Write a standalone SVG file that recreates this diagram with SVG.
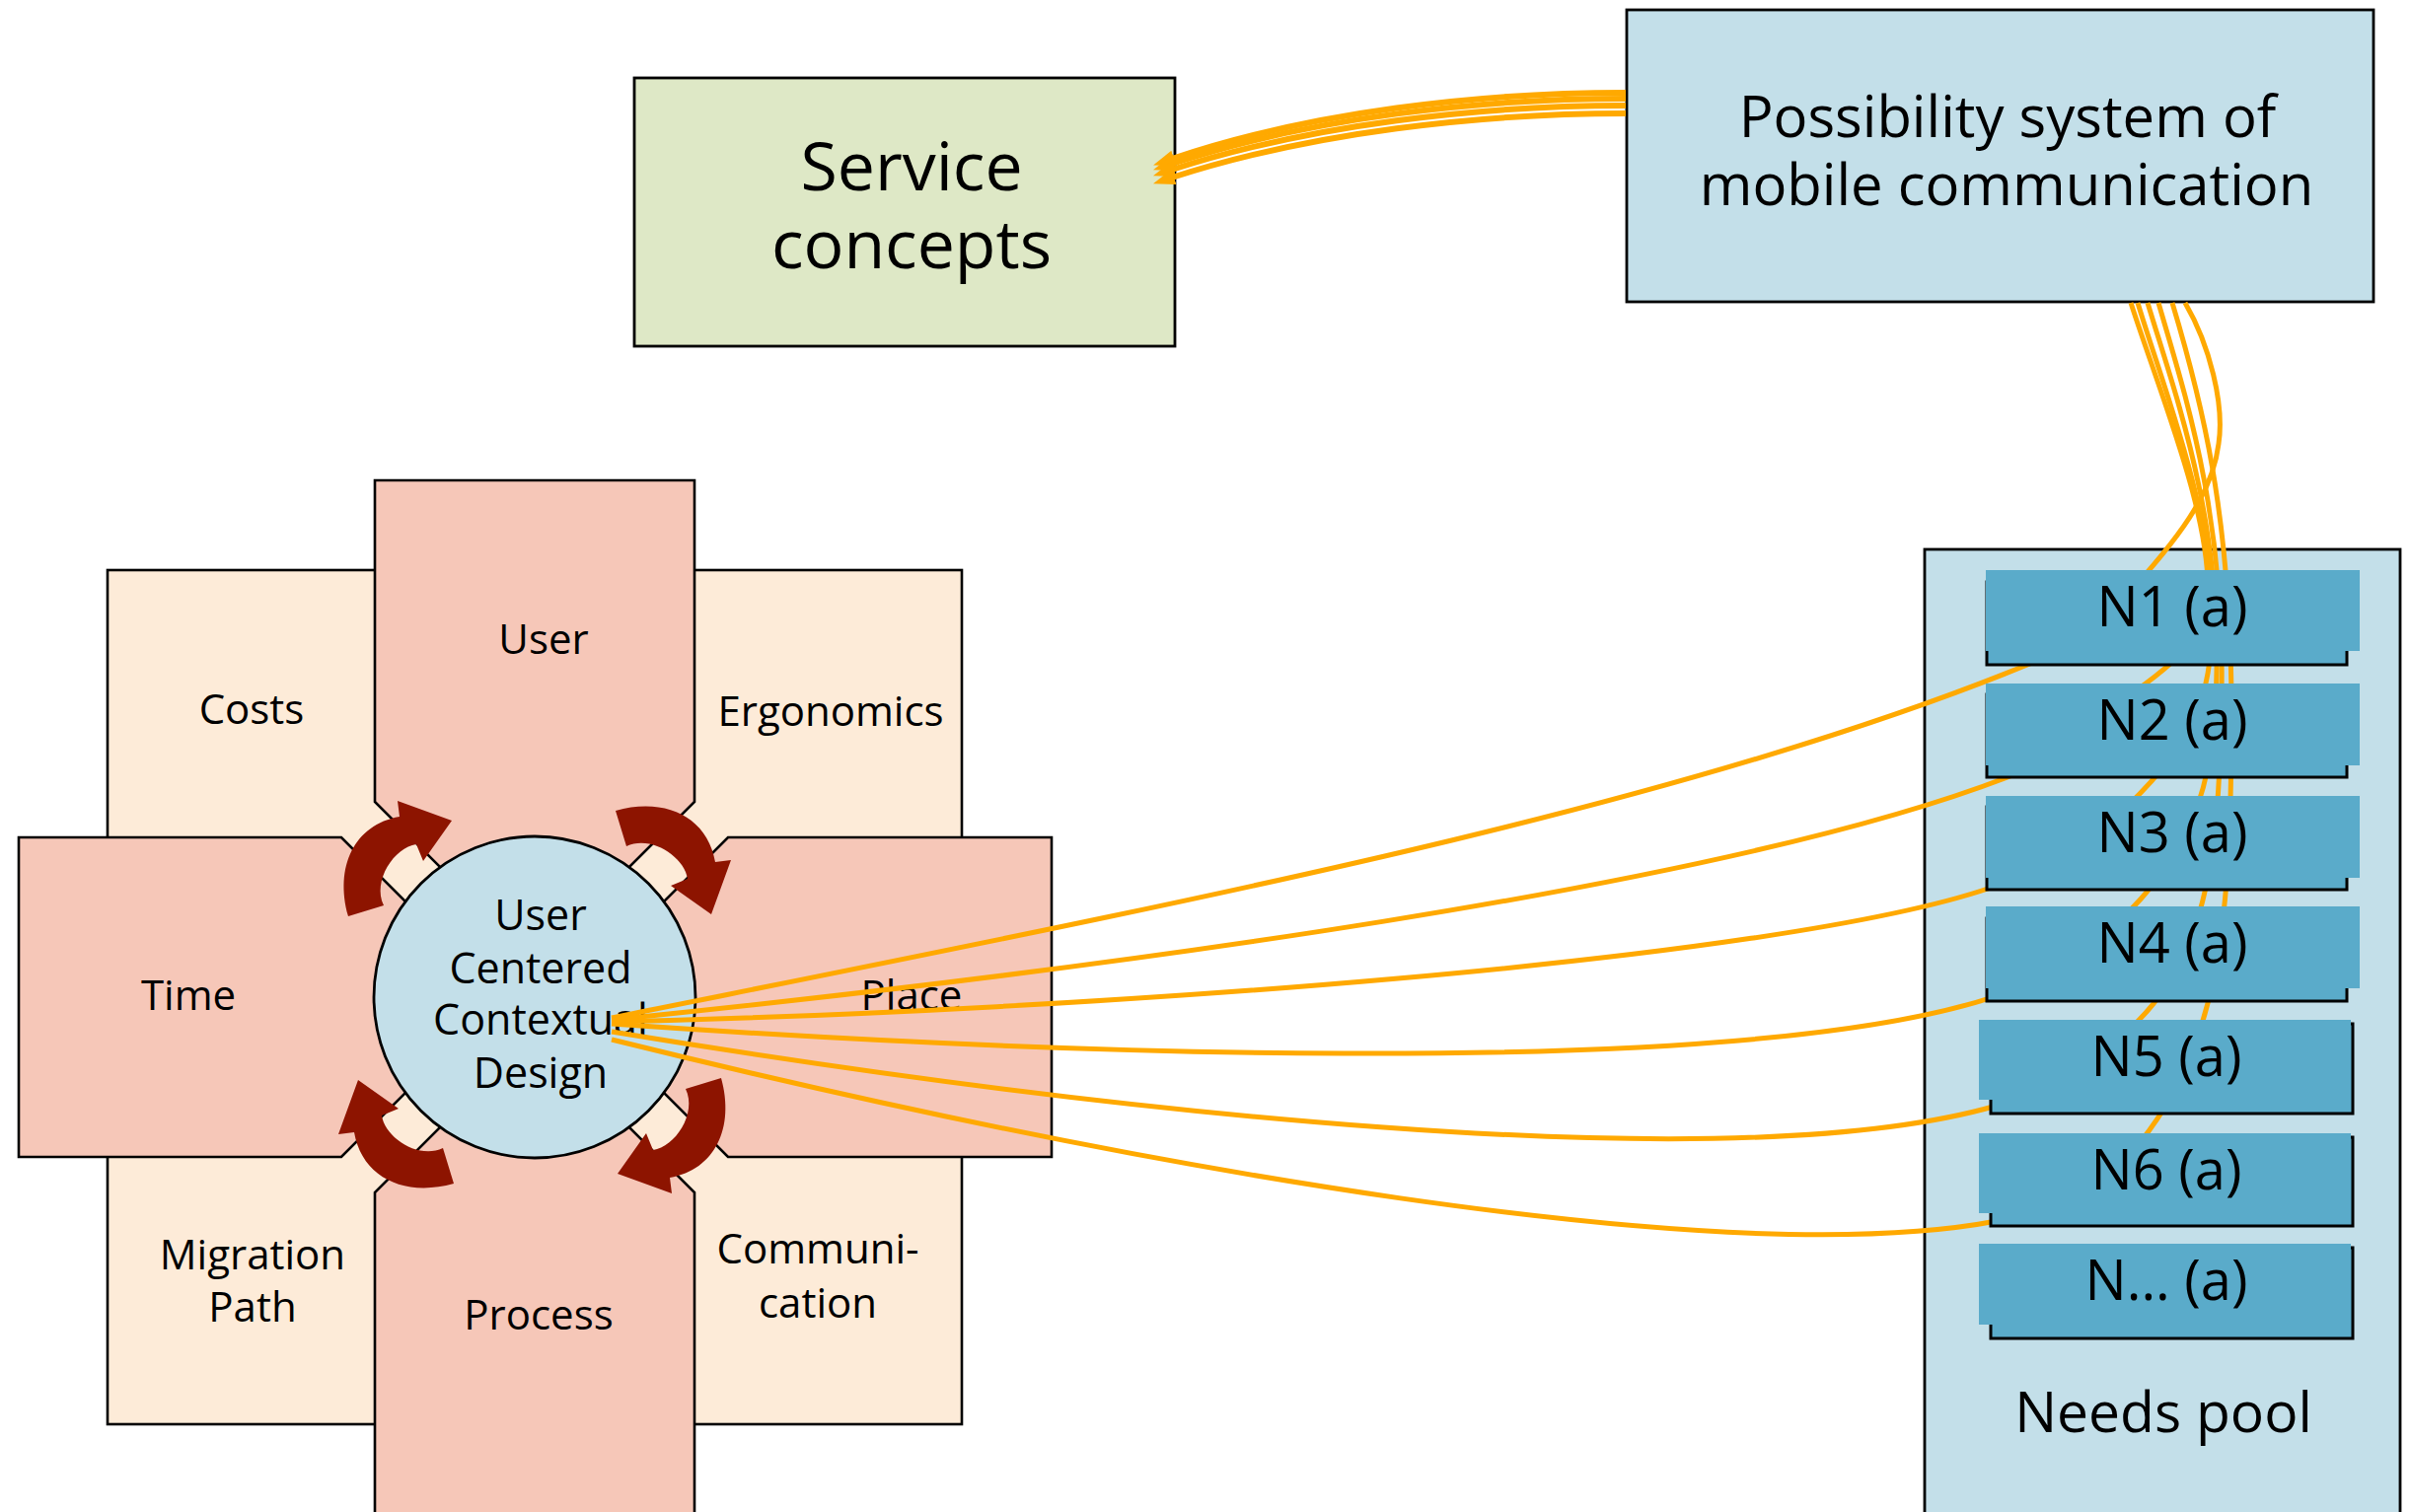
<svg xmlns="http://www.w3.org/2000/svg" width="2443" height="1533" viewBox="0 0 2443 1533">
  <defs>
    <style>
      .lbl { font-family: "Open Sans", "Noto Sans", "DejaVu Sans", sans-serif; fill: #000; text-anchor: middle; }
      .cream { fill: #fdebd8; stroke: #000; stroke-width: 2.6; }
      .arm { fill: #f6c7b8; stroke: #000; stroke-width: 2.6; stroke-linejoin: miter; }
      .blue { fill: #c3dfe9; stroke: #000; stroke-width: 2.8; }
      .green { fill: #dee8c6; stroke: #000; stroke-width: 2.8; }
      .turn { fill: #8d1400; }
      .need-front { fill: #5aabca; }
      .need-back { fill: #5aabca; stroke: #000; stroke-width: 3; }
      .link { fill: none; stroke: #ffa900; stroke-width: 5; stroke-linecap: butt; }
      .feed { fill: none; stroke: #ffa900; stroke-width: 6; marker-end: url(#head); }
    </style>
    <marker id="head" markerUnits="userSpaceOnUse" markerWidth="22" markerHeight="16" viewBox="0 0 22 16" refX="2" refY="8" orient="auto">
      <path d="M0,0 L22,8 L0,16 Z" fill="#ffa900"/>
    </marker>
    <!-- one curved turn arrow, drawn relative to the centre of the circle -->
    <path id="turn" class="turn" d="M -189,-82 C -203,-132 -183,-175 -137,-183 L -139,-199 L -84,-179 L -113,-138 L -120,-155 C -142,-152 -165,-118 -153,-93 Z"/>
  </defs>

  <rect width="2443" height="1533" fill="#fff"/>

  <!-- cream quadrants behind the cross -->
  <g id="costs">
    <rect class="cream" x="109" y="578" width="433" height="433"/>
    <text class="lbl" x="255" y="734" font-size="42">Costs</text>
  </g>
  <g id="ergonomics">
    <rect class="cream" x="542" y="578" width="433" height="433"/>
    <text class="lbl" x="842" y="736" font-size="42">Ergonomics</text>
  </g>
  <g id="migration-path">
    <rect class="cream" x="109" y="1011" width="433" height="433"/>
    <text class="lbl" x="256" y="1287" font-size="42">Migration</text>
    <text class="lbl" x="256" y="1340" font-size="42">Path</text>
  </g>
  <g id="communication">
    <rect class="cream" x="542" y="1011" width="433" height="433"/>
    <text class="lbl" x="829" y="1281" font-size="42">Communi-</text>
    <text class="lbl" x="829" y="1336" font-size="42">cation</text>
  </g>

  <!-- the four arms of the cross -->
  <g id="user">
    <polygon class="arm" points="380,487 704,487 704,813 542,975 380,813"/>
    <text class="lbl" x="551" y="663" font-size="42">User</text>
  </g>
  <g id="time">
    <polygon class="arm" points="19,849 346,849 508,1011 346,1173 19,1173"/>
    <text class="lbl" x="191" y="1024" font-size="42">Time</text>
  </g>
  <g id="place">
    <polygon class="arm" points="1066,849 738,849 576,1011 738,1173 1066,1173"/>
    <text class="lbl" x="924" y="1024" font-size="42">Place</text>
  </g>
  <g id="process">
    <polygon class="arm" points="380,1545 380,1209 542,1047 704,1209 704,1545"/>
    <text class="lbl" x="546" y="1348" font-size="42">Process</text>
  </g>

  <!-- centre circle -->
  <g id="ucd">
    <circle class="blue" cx="542" cy="1011" r="163"/>
    <text class="lbl" x="548" y="943" font-size="43">User</text>
    <text class="lbl" x="548" y="997" font-size="43">Centered</text>
    <text class="lbl" x="548" y="1049" font-size="43">Contextual</text>
    <text class="lbl" x="548" y="1103" font-size="43">Design</text>
  </g>

  <!-- clockwise turn arrows around the circle -->
  <g id="turn-arrows" transform="translate(542,1011)">
    <use href="#turn"/>
    <use href="#turn" transform="rotate(90)"/>
    <use href="#turn" transform="rotate(180)"/>
    <use href="#turn" transform="rotate(270)"/>
  </g>

  <g id="service-concepts">
    <rect class="green" x="643" y="79" width="548" height="272"/>
    <text class="lbl" x="924" y="193" font-size="68">Service</text>
    <text class="lbl" x="924" y="272" font-size="68">concepts</text>
  </g>

  <g id="possibility-system">
    <rect class="blue" x="1649" y="10" width="757" height="296"/>
    <text class="lbl" x="2035" y="139" font-size="58">Possibility system of</text>
    <text class="lbl" x="2034" y="208" font-size="58">mobile communication</text>
  </g>

  <g id="needs-pool">
    <rect class="blue" x="1951" y="557" width="482" height="1000"/>
    <text class="lbl" x="2193" y="1452" font-size="57">Needs pool</text>
  </g>

  <!-- connectors -->
  <g id="connectors">
    <path class="feed" d="M1648,94 C1500,94 1330,113 1188,161"/>
    <path class="feed" d="M1648,100 C1500,100 1330,119 1188,166"/>
    <path class="feed" d="M1648,107 C1500,107 1330,126 1188,172"/>
    <path class="feed" d="M1648,115 C1500,115 1330,134 1188,180"/>

    <path class="link" d="M2215,307 C2240,350 2255,410 2249,450 C2243,500 2210,545 2150,610"/>
    <path class="link" d="M2160,307 C2190,400 2240,520 2238,600 C2236,650 2200,680 2120,730"/>
    <path class="link" d="M2167,307 C2195,400 2245,520 2242,640 C2240,720 2215,770 2120,850"/>
    <path class="link" d="M2177,307 C2205,400 2250,520 2247,680 C2245,800 2225,870 2120,960"/>
    <path class="link" d="M2188,307 C2215,400 2255,520 2252,700 C2250,900 2232,1005 2110,1080"/>
    <path class="link" d="M2202,307 C2230,400 2262,520 2262,720 C2262,950 2250,1090 2130,1200"/>

    <path class="link" d="M620,1032 C1200,915 1700,820 2060,672"/>
    <path class="link" d="M620,1034 C1100,985 1750,900 2040,786"/>
    <path class="link" d="M620,1036 C1100,1025 1800,975 2018,900"/>
    <path class="link" d="M620,1038 C1000,1065 1750,1100 2020,1011"/>
    <path class="link" d="M620,1046 C1100,1125 1750,1200 2024,1121"/>
    <path class="link" d="M620,1054 C1150,1185 1750,1290 2024,1238"/>
  </g>

  <!-- needs -->
  <g id="n1">
    <rect class="need-back" x="2014" y="590" width="365" height="84"/>
    <rect class="need-front" x="2013" y="578" width="379" height="82"/>
    <text class="lbl" x="2202" y="635" font-size="56">N1 (a)</text>
  </g>
  <g id="n2">
    <rect class="need-back" x="2014" y="704" width="365" height="84"/>
    <rect class="need-front" x="2013" y="693" width="379" height="83"/>
    <text class="lbl" x="2202" y="750" font-size="56">N2 (a)</text>
  </g>
  <g id="n3">
    <rect class="need-back" x="2014" y="818" width="365" height="84"/>
    <rect class="need-front" x="2013" y="807" width="379" height="83"/>
    <text class="lbl" x="2202" y="864" font-size="56">N3 (a)</text>
  </g>
  <g id="n4">
    <rect class="need-back" x="2014" y="931" width="365" height="84"/>
    <rect class="need-front" x="2013" y="919" width="379" height="83"/>
    <text class="lbl" x="2202" y="976" font-size="56">N4 (a)</text>
  </g>
  <g id="n5">
    <rect class="need-back" x="2018" y="1038" width="367" height="91"/>
    <rect class="need-front" x="2006" y="1034" width="377" height="81"/>
    <text class="lbl" x="2196" y="1091" font-size="56">N5 (a)</text>
  </g>
  <g id="n6">
    <rect class="need-back" x="2018" y="1153" width="367" height="90"/>
    <rect class="need-front" x="2006" y="1149" width="377" height="81"/>
    <text class="lbl" x="2196" y="1206" font-size="56">N6 (a)</text>
  </g>
  <g id="n-more">
    <rect class="need-back" x="2018" y="1265" width="367" height="92"/>
    <rect class="need-front" x="2006" y="1261" width="377" height="82"/>
    <text class="lbl" x="2196" y="1318" font-size="56">N... (a)</text>
  </g>
</svg>
